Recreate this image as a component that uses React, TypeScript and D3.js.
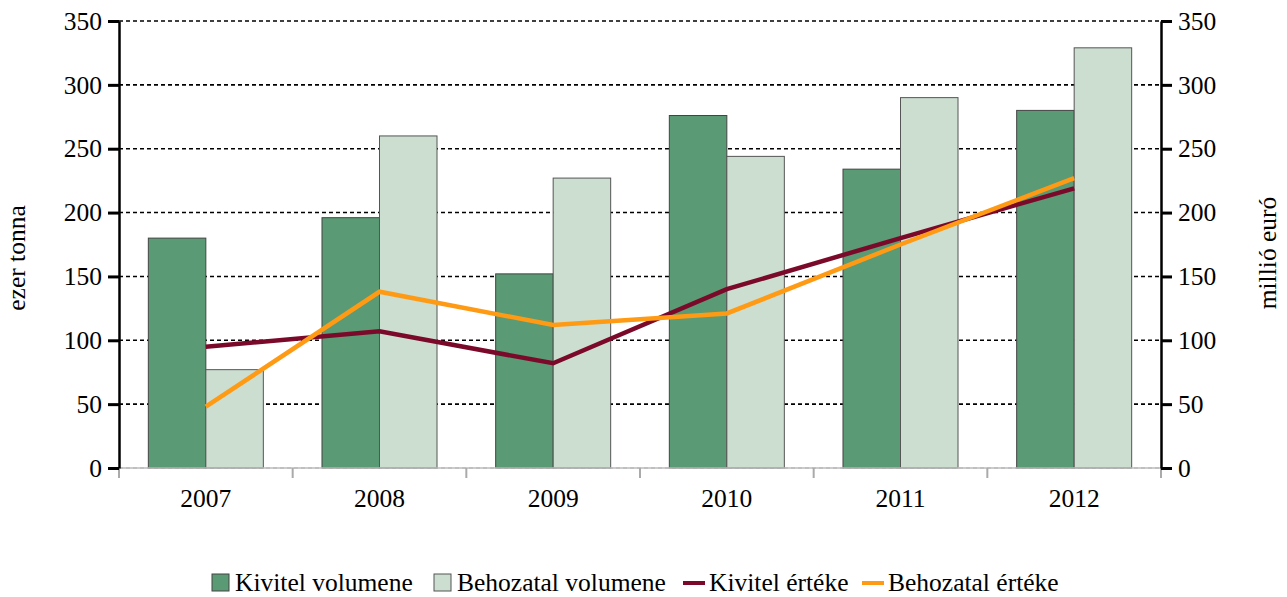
import React, { useEffect, useRef } from "react";
import * as d3 from "d3";

const years = ["2007", "2008", "2009", "2010", "2011", "2012"];
const kivitelVolumen = [180, 196, 152, 276, 234, 280];
const behozatalVolumen = [77, 260, 227, 244, 290, 329];
const kivitelErtek = [95, 107, 82, 140, 180, 219];
const behozatalErtek = [48, 138, 112, 121, 175, 227];
const yTicks = [0, 50, 100, 150, 200, 250, 300, 350];

const App: React.FC = () => {
  const svgRef = useRef<SVGSVGElement | null>(null);

  useEffect(() => {
    if (!svgRef.current) return;

    const width = 1287;
    const height = 597;
    const marginLeft = 119;
    const marginRight = 126;
    const marginTop = 21;
    const plotBottom = 468;
    const font = "Liberation Serif, DejaVu Serif, Times New Roman, serif";
    const fontSize = 25.5;

    const svg = d3
      .select(svgRef.current)
      .attr("width", width)
      .attr("height", height)
      .attr("viewBox", [0, 0, width, height])
      .attr("font-family", font)
      .style("display", "block");

    const x = d3
      .scaleBand<string>()
      .domain(years)
      .range([marginLeft, width - marginRight]);

    const inner = d3
      .scaleBand<string>()
      .domain(["k", "b"])
      .range([0, x.bandwidth()])
      .paddingOuter(0.51)
      .paddingInner(0);

    const yLeft = d3.scaleLinear().domain([0, 350]).range([plotBottom, marginTop]);
    const yRight = d3.scaleLinear().domain([0, 350]).range([plotBottom, marginTop]);

    // gridlines
    svg
      .append("g")
      .selectAll("line")
      .data(yTicks)
      .join("line")
      .attr("x1", marginLeft)
      .attr("x2", width - marginRight)
      .attr("y1", (d) => yLeft(d))
      .attr("y2", (d) => yLeft(d))
      .attr("stroke", (d) => (d === 0 ? "#bbbbbb" : "#000"))
      .attr("stroke-width", 1.6)
      .attr("stroke-dasharray", "4,3");

    // bars
    const groups = svg
      .append("g")
      .selectAll("g")
      .data(years)
      .join("g")
      .attr("transform", (d) => `translate(${x(d)},0)`);

    groups
      .append("rect")
      .attr("x", inner("k")!)
      .attr("width", inner.bandwidth())
      .attr("y", (_, i) => yLeft(kivitelVolumen[i]))
      .attr("height", (_, i) => plotBottom - yLeft(kivitelVolumen[i]))
      .attr("fill", "#5a9a74")
      .attr("stroke", "#444")
      .attr("stroke-width", 1);

    groups
      .append("rect")
      .attr("x", inner("b")!)
      .attr("width", inner.bandwidth())
      .attr("y", (_, i) => yLeft(behozatalVolumen[i]))
      .attr("height", (_, i) => plotBottom - yLeft(behozatalVolumen[i]))
      .attr("fill", "#ccded0")
      .attr("stroke", "#555")
      .attr("stroke-width", 1);

    // x axis (gray)
    svg
      .append("line")
      .attr("x1", marginLeft)
      .attr("x2", width - marginRight)
      .attr("y1", plotBottom)
      .attr("y2", plotBottom)
      .attr("stroke", "#bbbbbb")
      .attr("stroke-width", 1.5);

    const boundaries = years.map((d) => x(d)!).concat([width - marginRight]);
    svg
      .append("g")
      .selectAll("line")
      .data(boundaries)
      .join("line")
      .attr("x1", (d) => d)
      .attr("x2", (d) => d)
      .attr("y1", plotBottom)
      .attr("y2", plotBottom + 10)
      .attr("stroke", "#aaaaaa")
      .attr("stroke-width", 2);

    svg
      .append("g")
      .selectAll("text")
      .data(years)
      .join("text")
      .attr("x", (d) => x(d)! + x.bandwidth() / 2)
      .attr("y", 507)
      .attr("text-anchor", "middle")
      .attr("font-size", fontSize)
      .text((d) => d);

    // lines
    const cx = (i: number) => x(years[i])! + x.bandwidth() / 2;
    const line = d3
      .line<number>()
      .x((_, i) => cx(i))
      .y((d) => yRight(d));

    svg
      .append("path")
      .datum(kivitelErtek)
      .attr("fill", "none")
      .attr("stroke", "#7b0a2a")
      .attr("stroke-width", 4.5)
      .attr("d", line);

    svg
      .append("path")
      .datum(behozatalErtek)
      .attr("fill", "none")
      .attr("stroke", "#ff9a14")
      .attr("stroke-width", 4.5)
      .attr("d", line);

    // left axis
    svg
      .append("g")
      .attr("transform", `translate(${marginLeft},0)`)
      .call(d3.axisLeft(yLeft).tickValues(yTicks).tickSize(11).tickPadding(6).tickSizeOuter(0))
      .call((g) => g.attr("font-family", font).attr("font-size", fontSize))
      .call((g) => g.select(".domain").attr("stroke-width", 2.5))
      .call((g) => g.selectAll(".tick line").attr("stroke-width", 3));

    // right axis
    svg
      .append("g")
      .attr("transform", `translate(${width - marginRight},0)`)
      .call(d3.axisRight(yRight).tickValues(yTicks).tickSize(11).tickPadding(6).tickSizeOuter(0))
      .call((g) => g.attr("font-family", font).attr("font-size", fontSize))
      .call((g) => g.select(".domain").attr("stroke-width", 2.5))
      .call((g) => g.selectAll(".tick line").attr("stroke-width", 3));

    // axis titles
    svg
      .append("text")
      .attr("transform", `translate(25,258) rotate(-90)`)
      .attr("text-anchor", "middle")
      .attr("font-size", fontSize)
      .text("ezer tonna");

    svg
      .append("text")
      .attr("transform", `translate(1276,253) rotate(-90)`)
      .attr("text-anchor", "middle")
      .attr("font-size", fontSize)
      .text("millió euró");

    // legend
    const legend = svg.append("g").attr("font-size", fontSize);
    const boxes = [
      { x: 212, label: "Kivitel volumene", fill: "#5a9a74", stroke: "#444" },
      { x: 434, label: "Behozatal volumene", fill: "#ccded0", stroke: "#555" },
    ];
    boxes.forEach((b) => {
      legend
        .append("rect")
        .attr("x", b.x)
        .attr("y", 574)
        .attr("width", 17)
        .attr("height", 17)
        .attr("fill", b.fill)
        .attr("stroke", b.stroke);
      legend
        .append("text")
        .attr("x", b.x + 23)
        .attr("y", 591)
        .text(b.label);
    });
    const lines = [
      { x: 683, label: "Kivitel értéke", stroke: "#7b0a2a" },
      { x: 862, label: "Behozatal értéke", stroke: "#ff9a14" },
    ];
    lines.forEach((l) => {
      legend
        .append("line")
        .attr("x1", l.x)
        .attr("x2", l.x + 22)
        .attr("y1", 583)
        .attr("y2", 583)
        .attr("stroke", l.stroke)
        .attr("stroke-width", 4);
      legend
        .append("text")
        .attr("x", l.x + 26)
        .attr("y", 591)
        .text(l.label);
    });

    return () => {
      svg.selectAll("*").remove();
    };
  }, []);

  return <svg ref={svgRef} style={{ position: "absolute", left: 0, top: 0 }}></svg>;
};

export default App;
